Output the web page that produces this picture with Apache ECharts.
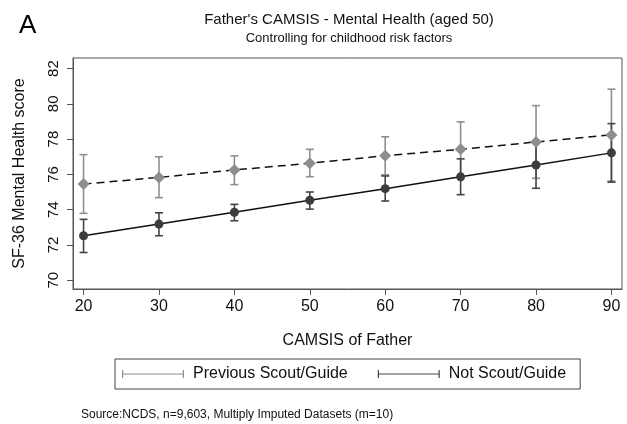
<!DOCTYPE html>
<html>
<head>
<meta charset="utf-8">
<script src="https://cdn.jsdelivr.net/npm/echarts@6/dist/echarts.min.js"></script>
<style>
  html, body { margin: 0; padding: 0; background: #fff; }
  #main { width: 627px; height: 424px; }
</style>
</head>
<body>
<div id="main"></div>
<script>
var chartDom = document.getElementById('main');
var myChart = echarts.init(chartDom);
var option;

// data
var camsis = [20, 30, 40, 50, 60, 70, 80, 90];
var xTicks = [20, 30, 40, 50, 60, 70, 80, 90];
var yTicks = [70, 72, 74, 76, 78, 80, 82];

var scoutMean = [75.45, 75.83, 76.25, 76.63, 77.06, 77.42, 77.84, 78.24];
var scoutLow  = [73.79, 74.68, 75.42, 75.87, 75.97, 75.86, 75.78, 75.62];
var scoutHigh = [77.12, 77.00, 77.05, 77.42, 78.13, 78.98, 79.90, 80.83];

var notMean = [72.52, 73.18, 73.85, 74.53, 75.19, 75.86, 76.53, 77.22];
var notLow  = [71.57, 72.52, 73.37, 74.03, 74.49, 74.85, 75.21, 75.56];
var notHigh = [73.45, 73.82, 74.30, 75.00, 75.91, 76.88, 77.85, 78.88];

var lightGrey = '#8e8e8e';
var darkGrey = '#444444';
var font = 'Liberation Sans, Arial, sans-serif';

function barData(low, high) {
    return camsis.map(function (x, i) { return [x, low[i], high[i]]; });
}
function lineData(mean) {
    return camsis.map(function (x, i) { return [x, mean[i]]; });
}

// vertical error bar with caps
function renderBar(color) {
    return function (params, api) {
        var lo = api.coord([api.value(0), api.value(1)]);
        var hi = api.coord([api.value(0), api.value(2)]);
        var w = 4;
        var style = { stroke: color, lineWidth: 1.6 };
        return {
            type: 'group',
            children: [
                { type: 'line', shape: { x1: lo[0], y1: lo[1], x2: hi[0], y2: hi[1] }, style: style },
                { type: 'line', shape: { x1: lo[0] - w, y1: lo[1], x2: lo[0] + w, y2: lo[1] }, style: style },
                { type: 'line', shape: { x1: hi[0] - w, y1: hi[1], x2: hi[0] + w, y2: hi[1] }, style: style }
            ]
        };
    };
}

var capIcon = 'path://M0,0h1.2v8h-1.2z M0,3.4h62v1.2h-62z M60.8,0h1.2v8h-1.2z';

option = {
    animation: false,
    backgroundColor: '#fff',
    textStyle: { fontFamily: font },
    title: [
        {
            text: 'A',
            left: 14,
            top: 8,
            textStyle: { fontSize: 26, fontWeight: 'normal', color: '#000', fontFamily: font }
        },
        {
            text: "Father's CAMSIS - Mental Health (aged 50)",
            subtext: 'Controlling for childhood risk factors',
            left: 344,
            textAlign: 'center',
            top: 7,
            itemGap: 5,
            textStyle: { fontSize: 15, fontWeight: 'normal', color: '#111', fontFamily: font },
            subtextStyle: { fontSize: 13, color: '#111', fontFamily: font }
        },
        {
            text: 'Source:NCDS, n=9,603, Multiply Imputed Datasets (m=10)',
            left: 76,
            top: 404,
            textStyle: { fontSize: 12, fontWeight: 'normal', color: '#111', fontFamily: font }
        }
    ],
    legend: {
        left: 115,
        top: 359,
        orient: 'horizontal',
        borderColor: '#444',
        borderWidth: 1,
        padding: [7, 14, 7, 7],
        itemWidth: 62,
        itemHeight: 8,
        itemGap: 30,
        symbolKeepAspect: false,
        textStyle: { fontSize: 16, color: '#111', fontFamily: font, padding: [0, 0, 0, 4] },
        data: [
            { name: 'Previous Scout/Guide', icon: capIcon },
            { name: 'Not Scout/Guide', icon: capIcon }
        ]
    },
    grid: {
        left: 73,
        right: 5,
        top: 58,
        bottom: 135,
        show: true,
        borderColor: '#555',
        borderWidth: 1
    },
    xAxis: {
        type: 'value',
        min: 18.6,
        max: 91.4,
        name: 'CAMSIS of Father',
        nameLocation: 'middle',
        nameGap: 44,
        nameTextStyle: { fontSize: 16, color: '#111', fontFamily: font },
        axisLine: { show: true, lineStyle: { color: '#555', width: 1 } },
        axisTick: { show: true, length: 6, customValues: xTicks, lineStyle: { color: '#555' } },
        axisLabel: { customValues: xTicks, fontSize: 16, color: '#111', margin: 10, fontFamily: font },
        splitLine: { show: false }
    },
    yAxis: {
        type: 'value',
        min: 69.5,
        max: 82.6,
        name: 'SF-36 Mental Health score',
        nameLocation: 'middle',
        nameGap: 45,
        nameTextStyle: { fontSize: 16, color: '#111', fontFamily: font },
        axisLine: { show: true, lineStyle: { color: '#555', width: 1 } },
        axisTick: { show: true, length: 6, customValues: yTicks, lineStyle: { color: '#555' } },
        axisLabel: { customValues: yTicks, fontSize: 15, color: '#111', rotate: 90, margin: 12, fontFamily: font },
        splitLine: { show: false }
    },
    series: [
        {
            name: 'Previous Scout/Guide',
            type: 'custom',
            itemStyle: { color: lightGrey },
            renderItem: renderBar(lightGrey),
            encode: { x: 0, y: [1, 2] },
            data: barData(scoutLow, scoutHigh),
            z: 2
        },
        {
            name: 'Not Scout/Guide',
            type: 'custom',
            itemStyle: { color: darkGrey },
            renderItem: renderBar(darkGrey),
            encode: { x: 0, y: [1, 2] },
            data: barData(notLow, notHigh),
            z: 3
        },
        {
            name: 'Previous Scout/Guide fit',
            type: 'line',
            data: lineData(scoutMean),
            symbol: 'diamond',
            symbolSize: [12, 12],
            itemStyle: { color: lightGrey },
            lineStyle: { color: '#111', width: 1.5, type: [8, 5] },
            z: 4
        },
        {
            name: 'Not Scout/Guide fit',
            type: 'line',
            data: lineData(notMean),
            symbol: 'circle',
            symbolSize: 9,
            itemStyle: { color: '#3c3c3c' },
            lineStyle: { color: '#111', width: 1.5 },
            z: 5
        }
    ]
};

option && myChart.setOption(option);
</script>
</body>
</html>
